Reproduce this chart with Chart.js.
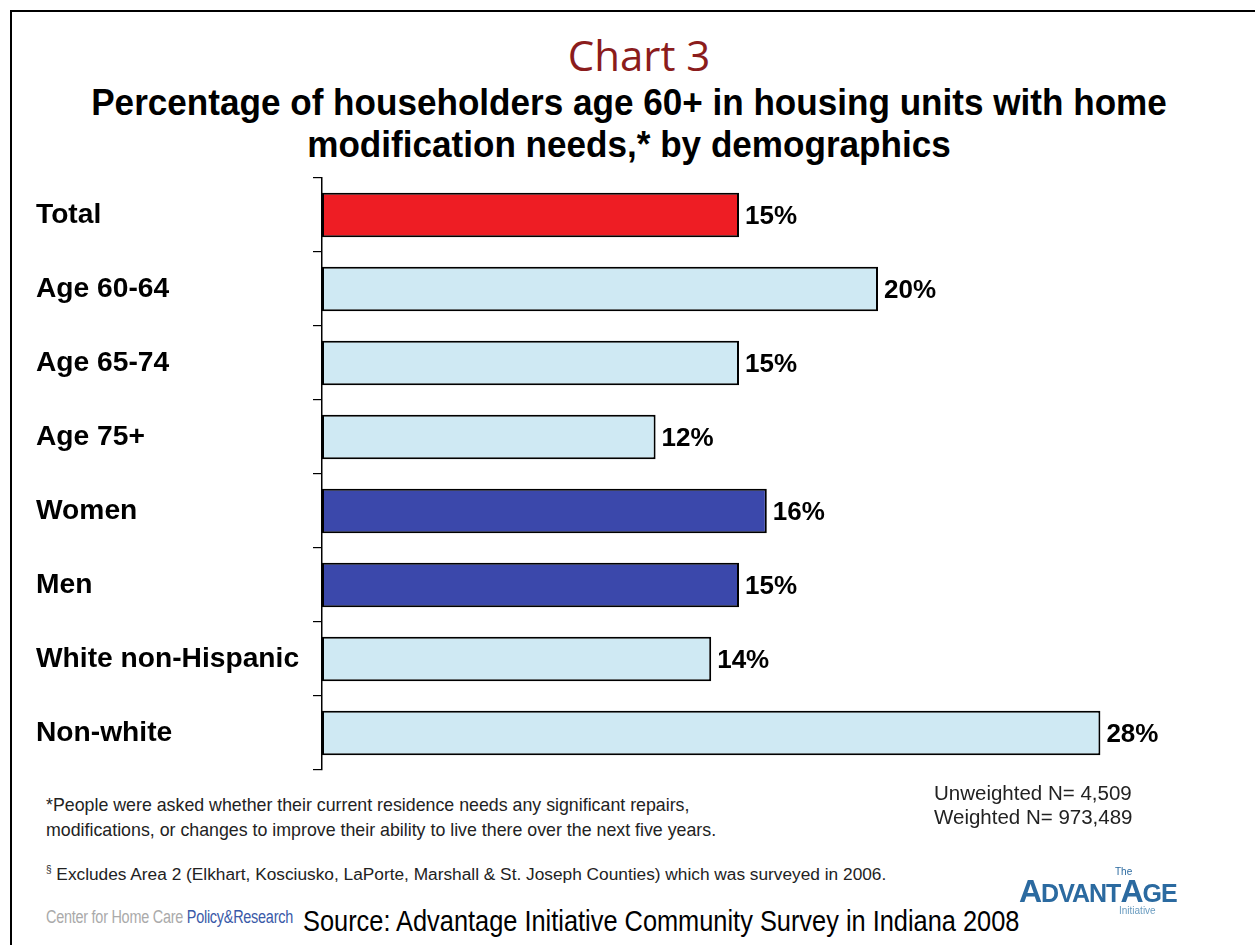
<!DOCTYPE html>
<html>
<head>
<meta charset="utf-8">
<script src="https://cdn.jsdelivr.net/npm/chart.js@4.4.1/dist/chart.umd.min.js"></script>
<style>
  body { margin: 0; background: #fff; width: 1255px; height: 945px; overflow: hidden; position: relative; font-family: "Liberation Sans", Arial, sans-serif; }
  .frame { position: absolute; left: 10px; top: 10px; right: -10px; bottom: -10px; border-left: 2px solid #000; border-top: 2px solid #000; }
  .abs { position: absolute; white-space: nowrap; }
  #chart-num { left: 0; width: 1278px; top: 26px; text-align: center; font-family: "Open Sans", sans-serif; font-size: 42px; color: #8b1c1c; }
  #chart-sub { left: 0; width: 1258px; top: 82px; text-align: center; font-weight: bold; font-size: 36px; line-height: 42px; color: #000; transform: scaleX(0.975); transform-origin: 629px 0; }
  #wrap { position: absolute; left: 0; top: 158px; width: 1200px; height: 632px; }
  .note { font-size: 17.8px; color: #222; line-height: 25px; }
  #src { left: 303px; top: 904px; font-size: 29.5px; color: #000; transform: scaleX(0.86); transform-origin: left top; }
  #cred { left: 46px; top: 907px; font-size: 17.6px; color: #aaa; transform: scaleX(0.82); transform-origin: left top; letter-spacing: -0.3px; }
  #cred span { color: #3a5aa8; }
  #logo { left: 1019px; top: 867px; color: #2b6aa0; font-weight: bold; }
</style>
</head>
<body>
<div class="frame"></div>
<div id="chart-num" class="abs">Chart 3</div>
<div id="chart-sub" class="abs">Percentage of householders age 60+ in housing units with home<br>modification needs,* by demographics</div>
<div id="wrap"><canvas id="chart" width="1200" height="632"></canvas></div>

<div class="abs note" style="left:46px; top:793px;">*People were asked whether their current residence needs any significant repairs,<br>modifications, or changes to improve their ability to live there over the next five years.</div>
<div class="abs note" style="left:46px; top:857px; font-size:17.3px;"><sup style="font-size:10px;">§</sup> Excludes Area 2 (Elkhart, Kosciusko, LaPorte, Marshall &amp; St. Joseph Counties) which was surveyed in 2006.</div>
<div class="abs note" style="left:934px; top:781px; font-size:20.5px; line-height:24px;">Unweighted N= 4,509<br>Weighted N= 973,489</div>
<div id="cred" class="abs">Center for Home Care <span>Policy&amp;Research</span></div>
<div id="src" class="abs">Source: Advantage Initiative Community Survey in Indiana 2008</div>
<div id="logo" class="abs">
  <div style="position:absolute; left:96px; top:0; font-size:10px; font-weight:normal; line-height:10px;">The</div>
  <div style="position:absolute; left:0; top:8px; font-size:32px; line-height:32px; letter-spacing:-1px;">A<span style="font-size:25px;">DVANT</span>A<span style="font-size:25px;">GE</span></div>
  <div style="position:absolute; left:100px; top:39px; font-size:10px; line-height:10px; font-weight:normal; color:#6a9cc0;">Initiative</div>
</div>

<script>
const categories = ['Total', 'Age 60-64', 'Age 65-74', 'Age 75+', 'Women', 'Men', 'White non-Hispanic', 'Non-white'];
const percentValues = [15, 20, 15, 12, 16, 15, 14, 28];
const barColors = ['#ee1d24', '#cfe9f3', '#cfe9f3', '#cfe9f3', '#3b48ab', '#3b48ab', '#cfe9f3', '#cfe9f3'];

// etiquettes de valeur au bout des barres
const valueLabels = {
    id: 'valueLabels',
    afterDatasetsDraw(chart) {
        const ctx = chart.ctx;
        const meta = chart.getDatasetMeta(0);
        ctx.save();
        ctx.font = 'bold 26px "Liberation Sans", Arial, sans-serif';
        ctx.fillStyle = '#000';
        ctx.textAlign = 'left';
        ctx.textBaseline = 'middle';
        meta.data.forEach((bar, i) => {
            ctx.fillText(percentValues[i] + '%', bar.x + 6, bar.y + 2);
        });
        ctx.restore();
    }
};

new Chart(document.getElementById('chart'), {
    type: 'bar',
    data: {
        labels: categories,
        datasets: [{
            data: percentValues,
            backgroundColor: barColors,
            borderColor: '#000',
            borderWidth: 2,
            borderSkipped: false,
            barPercentage: 0.6,
            categoryPercentage: 1
        }]
    },
    options: {
        indexAxis: 'y',
        responsive: false,
        animation: false,
        devicePixelRatio: 1,
        layout: { padding: { left: 36, top: 8, right: 44, bottom: 20 } },
        plugins: { legend: { display: false }, tooltip: { enabled: false } },
        scales: {
            x: { display: false, min: 0, max: 30 },
            y: {
                afterFit(scale) { scale.width = 286; },
                border: { display: true, color: '#000', width: 1.5 },
                grid: { display: true, drawOnChartArea: false, drawTicks: true, tickLength: 9, color: '#000', lineWidth: 1.2, offset: true },
                ticks: {
                    crossAlign: 'far',
                    autoSkip: false,
                    color: '#000',
                    font: { family: '"Liberation Sans", Arial, sans-serif', size: 28.2, weight: 'bold' }
                }
            }
        }
    },
    plugins: [valueLabels]
});
</script>
</body>
</html>
